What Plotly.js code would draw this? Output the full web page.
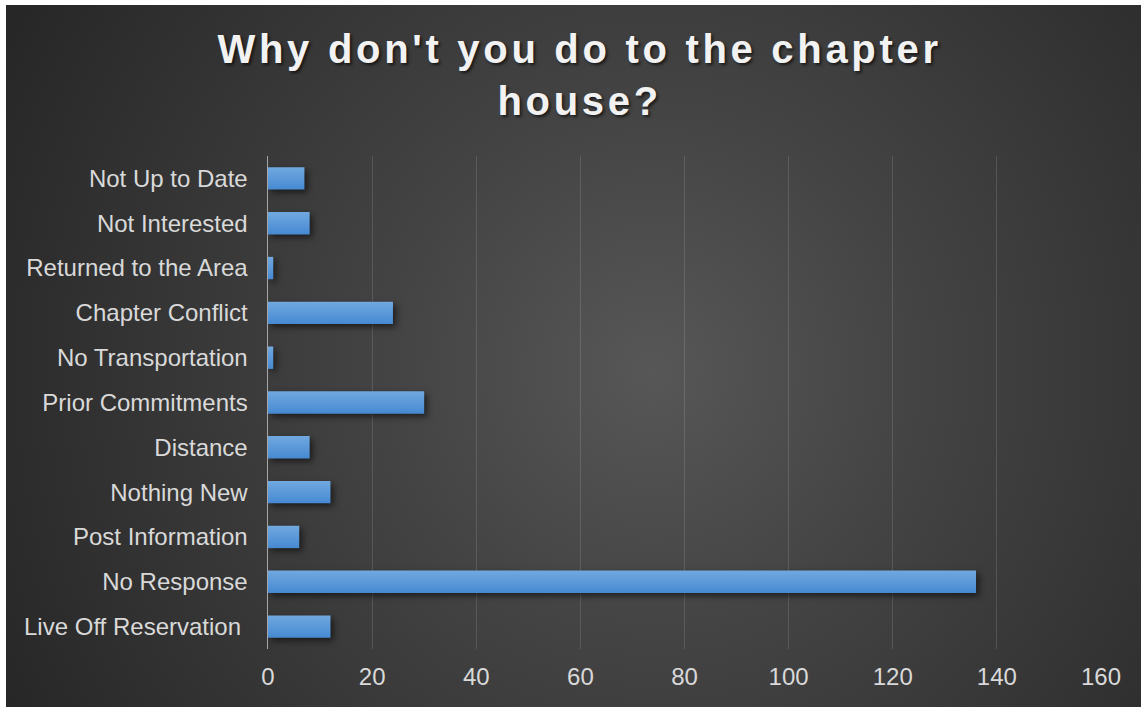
<!DOCTYPE html>
<html>
<head>
<meta charset="utf-8">
<script src="https://cdn.plot.ly/plotly-3.0.1.min.js"></script>
<style>
  html, body { margin: 0; padding: 0; background: #ffffff; }
  #wrap { position: relative; width: 1141px; height: 707px; overflow: hidden; }
  #bg { position: absolute; left: 6px; top: 5px; width: 1135px; height: 702px;
        background: radial-gradient(circle farthest-corner at 57% 52%, #575757 0%, #444444 35%, #262626 100%); }
  #chart { position: absolute; left: 0; top: 0; width: 1141px; height: 707px; }
  .gtitle { letter-spacing: 3.7px; }
  .trace.bars .point path { filter: drop-shadow(3px 3px 3px rgba(0,0,0,0.55)); }
</style>
</head>
<body>
<div id="wrap">
  <div id="bg"></div>
  <div id="chart"></div>
</div>
<script>
const categories = [
  "Live Off Reservation\u00a0",
  "No Response",
  "Post Information",
  "Nothing New",
  "Distance",
  "Prior Commitments",
  "No Transportation",
  "Chapter Conflict",
  "Returned to the Area",
  "Not Interested",
  "Not Up to Date"
];
const values = [12, 136, 6, 12, 8, 30, 1, 24, 1, 8, 7];
const xTickValues = [0, 20, 40, 60, 80, 100, 120, 140, 160];
const chartTitle = "Why don't you do to the chapter<br>house?";

const trace = {
  type: "bar",
  orientation: "h",
  y: categories,
  x: values,
  marker: { color: "#5B9BD5", line: { width: 0 } },
  hoverinfo: "x+y"
};

const layout = {
  width: 1141,
  height: 707,
  paper_bgcolor: "rgba(0,0,0,0)",
  plot_bgcolor: "rgba(0,0,0,0)",
  margin: { l: 268, r: 40, t: 156, b: 58 },
  showlegend: false,
  bargap: 0.5,
  title: {
    text: chartTitle,
    x: 0.508,
    xanchor: "center",
    xref: "container",
    yref: "container",
    y: 1 - 66 / 707,
    yanchor: "top",
    font: { family: "Liberation Sans, Arial, sans-serif", size: 40, color: "#F2F2F2", weight: 700,
            shadow: "2px 2px 3px rgba(0,0,0,0.6)" }
  },
  xaxis: {
    range: [0, 160],
    tickvals: xTickValues,
    ticktext: xTickValues.map(String),
    showgrid: true,
    gridcolor: "rgba(255,255,255,0.13)",
    gridwidth: 1,
    zeroline: false,
    showline: false,
    ticks: "",
    ticklabelstandoff: 11,
    tickfont: { family: "Liberation Sans, Arial, sans-serif", size: 24, color: "#D9D9D9" },
    fixedrange: true
  },
  yaxis: {
    type: "category",
    showgrid: false,
    zeroline: false,
    showline: true,
    linecolor: "#A6A6A6",
    linewidth: 1.5,
    ticks: "",
    ticklabelstandoff: 14,
    tickfont: { family: "Liberation Sans, Arial, sans-serif", size: 24, color: "#D9D9D9" },
    fixedrange: true
  }
};

Plotly.newPlot("chart", [trace], layout, { displayModeBar: false, staticPlot: true }).then(function (gd) {
  const svg = gd.querySelector("svg.main-svg");
  const defs = svg.querySelector("defs");
  const ns = "http://www.w3.org/2000/svg";
  const grad = document.createElementNS(ns, "linearGradient");
  grad.setAttribute("id", "barGrad");
  grad.setAttribute("x1", "0"); grad.setAttribute("y1", "0");
  grad.setAttribute("x2", "0"); grad.setAttribute("y2", "1");
  [["0%", "#71A9E0"], ["100%", "#4689D2"]].forEach(function (s) {
    const st = document.createElementNS(ns, "stop");
    st.setAttribute("offset", s[0]);
    st.setAttribute("stop-color", s[1]);
    grad.appendChild(st);
  });
  defs.appendChild(grad);
  gd.querySelectorAll(".trace.bars .point path").forEach(function (p) {
    p.style.fill = "url(#barGrad)";
  });
  // adjust the title's line spacing to match the reference
  const title = gd.querySelector(".gtitle");
  if (title) {
    const lines = title.querySelectorAll("tspan.line");
    if (lines.length > 1) {
      lines[0].setAttribute("dy", "-0.07em");
      lines[1].setAttribute("dy", "1.23em");
    }
  }
});
</script>
</body>
</html>
